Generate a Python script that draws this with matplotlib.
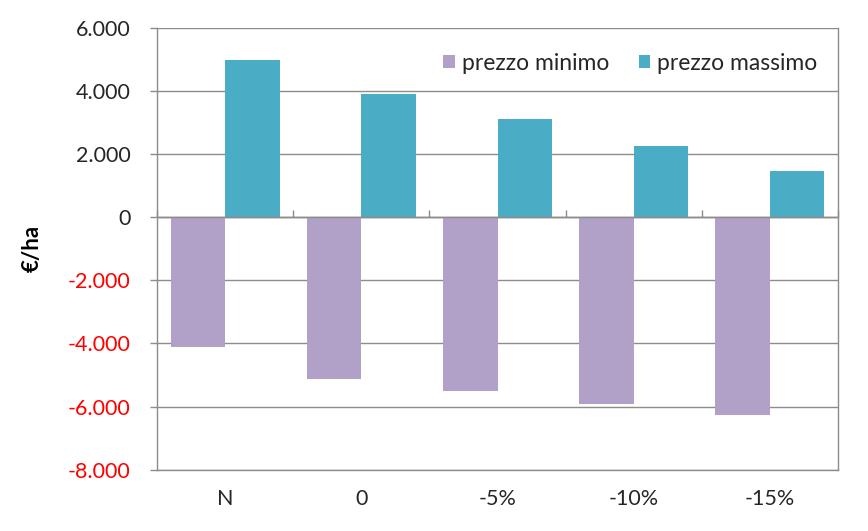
import matplotlib
matplotlib.use("Agg")
import matplotlib.pyplot as plt
import numpy as np

categories = ["N", "0", "-5%", "-10%", "-15%"]
prezzo_minimo = [-4110, -5140, -5520, -5920, -6265]
prezzo_massimo = [4970, 3900, 3130, 2260, 1475]
yticks = [-8000, -6000, -4000, -2000, 0, 2000, 4000, 6000]
ytick_labels = ["-8.000", "-6.000", "-4.000", "-2.000", "0", "2.000", "4.000", "6.000"]

plt.rcParams['font.family'] = ['Lato', 'DejaVu Sans']

fig = plt.figure(figsize=(8.68, 5.31), dpi=100)
ax = fig.add_axes([157/868, 1 - 469.7/531, (838-157)/868, (469.7-28)/531])

x = np.arange(len(categories))
w = 0.4
c_min = "#B1A0C7"
c_max = "#4BACC6"
ax.bar(x - w/2, prezzo_minimo, width=w, color=c_min, label="prezzo minimo", zorder=3)
ax.bar(x + w/2, prezzo_massimo, width=w, color=c_max, label="prezzo massimo", zorder=3)

ymin, ymax = -8000, 6000
ax.set_ylim(ymin, ymax)
ax.set_xlim(-0.5, len(categories) - 0.5)
ax.set_yticks(yticks)
ax.set_yticklabels(ytick_labels)
gray = "#8C8C8C"
ax.yaxis.grid(True, color=gray, linewidth=1.0, zorder=0)
ax.set_axisbelow(True)

for lab, v in zip(ax.get_yticklabels(), yticks):
    lab.set_color("#FF0000" if v < 0 else "#262626")

ax.tick_params(axis='y', length=5, width=1, color=gray, pad=14, labelsize=15.5)
ax.set_xticks(x)
ax.set_xticklabels(categories)
ax.tick_params(axis='x', length=0, pad=14, labelsize=15.5, labelcolor="#262626")

for s in ["left", "right", "bottom", "top"]:
    ax.spines[s].set_color(gray)
    ax.spines[s].set_linewidth(1.0)
ax.spines["top"].set_visible(False)

# category axis at zero with tick marks between categories
sec = ax.secondary_xaxis((0 - ymin) / (ymax - ymin))
sec.set_xticks(np.arange(len(categories) + 1) - 0.5)
sec.set_xticklabels([])
sec.tick_params(axis='x', direction='out', length=5, width=1, color=gray)
sec.spines["bottom"].set_color(gray)
sec.spines["bottom"].set_linewidth(1.0)
ax.axhline(0, color=gray, linewidth=1.0, zorder=4)

ax.set_ylabel("€/ha", fontsize=16, fontweight="bold", labelpad=18)

leg = ax.legend(loc="upper right", ncol=2, frameon=False, fontsize=16.5,
                handlelength=0.5, handleheight=0.5, handletextpad=0.3,
                columnspacing=1.3, bbox_to_anchor=(1.0, 0.99))
for t in leg.get_texts():
    t.set_color("#262626")

fig.savefig("out.png", dpi=100)
